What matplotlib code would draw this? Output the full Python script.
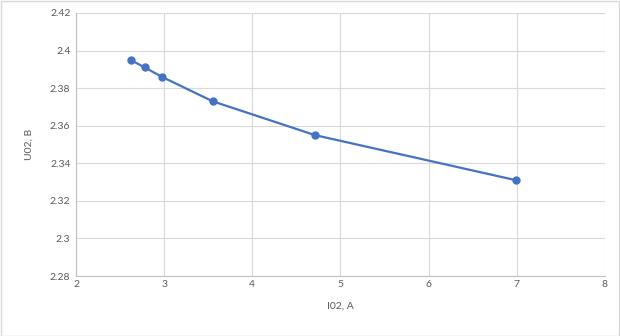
import matplotlib
matplotlib.use("Agg")
import matplotlib.pyplot as plt
from matplotlib.patches import Rectangle

# data
i02 = [2.62, 2.78, 2.975, 3.55, 4.71, 6.99]
u02 = [2.395, 2.391, 2.386, 2.373, 2.355, 2.331]
x_ticks = [2, 3, 4, 5, 6, 7, 8]
y_ticks = [2.28, 2.30, 2.32, 2.34, 2.36, 2.38, 2.40, 2.42]
y_tick_labels = ["2.28", "2.3", "2.32", "2.34", "2.36", "2.38", "2.4", "2.42"]

plt.rcParams["font.family"] = ["Lato", "DejaVu Sans"]
W, H = 620, 336
fig = plt.figure(figsize=(W / 100, H / 100), dpi=100)
ax = fig.add_axes([76 / W, 1 - 276 / H, (605 - 76) / W, (276 - 13) / H])

ax.plot(i02, u02, color="#4472C4", linewidth=1.6, marker="o",
        markersize=5, markerfacecolor="#4472C4", markeredgecolor="#4472C4")

ax.set_xlim(2, 8)
ax.set_ylim(2.28, 2.42)
ax.set_xticks(x_ticks)
ax.set_yticks(y_ticks)
ax.set_yticklabels(y_tick_labels)
ax.grid(True, color="#d9d9d9", linewidth=0.8)
ax.set_axisbelow(True)
ax.tick_params(length=0, labelsize=7.5, colors="#595959")
ax.tick_params(axis="x", pad=3)
ax.tick_params(axis="y", pad=4)
for side in ["top", "right"]:
    ax.spines[side].set_visible(False)
for side in ["left", "bottom"]:
    ax.spines[side].set_color("#bfbfbf")
    ax.spines[side].set_linewidth(0.8)

ax.set_xlabel("I02, A", fontsize=7.5, color="#595959", labelpad=9)
ax.set_ylabel("U02, B", fontsize=7.5, color="#595959", labelpad=12)

fig.patches.append(Rectangle((0.5 / W, 0.5 / H), 1 - 1.5 / W, 1 - 1.5 / H,
                             transform=fig.transFigure, fill=False,
                             edgecolor="#d9d9d9", linewidth=1))

fig.savefig("out.png", dpi=100)
